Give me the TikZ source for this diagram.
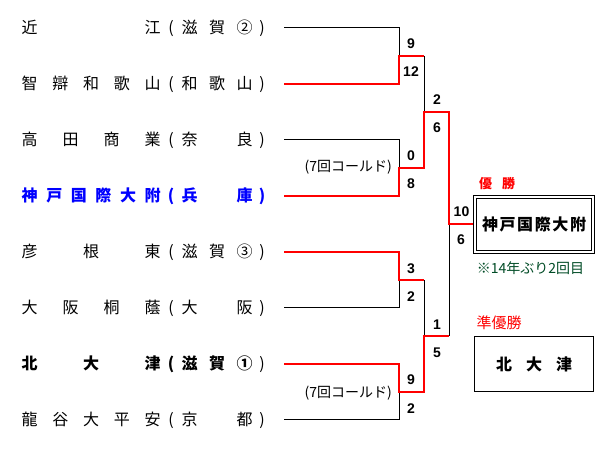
\documentclass[tikz,border=0pt]{standalone}
\usepackage{fontspec}
\setmainfont{Noto Sans CJK JP}
\newfontfamily\numfont{Liberation Sans}
\definecolor{winred}{RGB}{255,0,0}
\definecolor{teamblue}{RGB}{0,0,255}
\definecolor{notegreen}{RGB}{0,76,38}
\newcommand\trow[3]{\makebox[139pt][l]{#1}\makebox[21pt]{(}\makebox[71pt][l]{#2}\makebox[19pt]{#3)}}
\begin{document}
\begin{tikzpicture}[x=1pt,y=-1pt,
  team/.style={anchor=west, inner sep=0pt, font=\fontsize{16}{16}\selectfont},
  score/.style={inner sep=0pt, font=\numfont\bfseries\fontsize{14}{14}\selectfont},
  cold/.style={anchor=east, inner sep=0pt, font=\fontsize{14}{14}\selectfont},
  winline/.style={draw=winred, line width=2pt},
  loseline/.style={draw=black, line width=1pt},
  champbox/.style={draw, double, line width=1pt, double distance=2pt, minimum width=118pt, minimum height=55pt, inner sep=0pt},
  runbox/.style={draw, line width=1pt, minimum width=119pt, minimum height=55pt, inner sep=0pt}]
\useasboundingbox[fill=white] (0,0) rectangle (614,449);

% teams
\node[team] (t1) at (21.5,28) {\trow{近\hfill 江}{滋\hfill 賀\hfill ②}{}};
\node[team] (t2) at (21.5,84) {\trow{智\hfill 辯\hfill 和\hfill 歌\hfill 山}{和\hfill 歌\hfill 山}{}};
\node[team] (t3) at (21.5,140) {\trow{高\hfill 田\hfill 商\hfill 業}{奈\hfill 良}{}};
\node[team, text=teamblue, font=\fontsize{16}{16}\selectfont\bfseries] (t4) at (21.5,196) {\trow{神\hfill 戸\hfill 国\hfill 際\hfill 大\hfill 附}{兵\hfill 庫}{}};
\node[team] (t5) at (21.5,252) {\trow{彦\hfill 根\hfill 東}{滋\hfill 賀\hfill ③}{}};
\node[team] (t6) at (21.5,308) {\trow{大\hfill 阪\hfill 桐\hfill 蔭}{大\hfill 阪}{}};
\node[team, font=\fontsize{16}{16}\selectfont\bfseries] (t7) at (21.5,364) {\trow{北\hfill 大\hfill 津}{滋\hfill 賀\hfill ①}{\mdseries}};
\node[team] (t8) at (21.5,420) {\trow{龍\hfill 谷\hfill 大\hfill 平\hfill 安}{京\hfill 都}{}};

% bracket coordinates
\coordinate (s1) at (284,28);
\coordinate (s2) at (284,84);
\coordinate (s3) at (284,140);
\coordinate (s4) at (284,196);
\coordinate (s5) at (284,252);
\coordinate (s6) at (284,308);
\coordinate (s7) at (284,364);
\coordinate (s8) at (284,420);
\coordinate (j1) at (399,56);
\coordinate (j2) at (399,168);
\coordinate (j3) at (399,280);
\coordinate (j4) at (399,392);
\coordinate (k1) at (424,56);
\coordinate (k2) at (424,168);
\coordinate (k3) at (424,280);
\coordinate (k4) at (424,392);
\coordinate (m1) at (424,112);
\coordinate (m2) at (424,336);
\coordinate (r1) at (449,112);
\coordinate (r2) at (449,336);
\coordinate (f) at (449,224);

% result boxes
\node[champbox] (champ) at (534,224.5) {\makebox[104pt][l]{\fontsize{16}{16}\selectfont\bfseries 神\hfill 戸\hfill 国\hfill 際\hfill 大\hfill 附}};
\node[runbox] (runner) at (534,364) {\makebox[76pt][l]{\fontsize{16}{16}\selectfont\bfseries 北\hfill 大\hfill 津}};
\node[inner sep=0pt, text=winred, font=\fontsize{13}{13}\selectfont\bfseries] (champlabel) at (497,184) {\makebox[36pt][l]{優\hfill 勝}};
\node[inner sep=0pt, text=notegreen, font=\fontsize{14}{14}\selectfont] (champnote) at (530.5,268.3) {※14年ぶり2回目};
\node[inner sep=0pt, text=winred, font=\fontsize{15}{15}\selectfont] (runlabel) at (499,323) {準優勝};

% losing lines
\draw[loseline] (s1) -| (j1);
\draw[loseline] (s3) -| (j2);
\draw[loseline] (s6) -| (j3);
\draw[loseline] (s8) -| (j4);
\draw[loseline] (k1) -- (m1);
\draw[loseline] (k3) -- (m2);
\draw[loseline] (r2) -- (f);
% winning lines
\draw[winline] (s2) -| (j1) -- (k1);
\draw[winline] (s4) -| (j2) -- (k2) -- (m1) -- (r1) -- (f) -- (f -| champ.west);
\draw[winline] (s5) -| (j3) -- (k3);
\draw[winline] (s7) -| (j4) -- (k4) -- (m2) -- (r2);
\node[champbox, fill=none] at (champ) {};

% scores
\node[score] (a1) at (411,43.7) {9};
\node[score] (a2) at (411,71.7) {12};
\node[score] (a3) at (411,155.7) {0};
\node[score] (a4) at (411,183.7) {8};
\node[score] (a5) at (411,268.3) {3};
\node[score] (a6) at (411,296.7) {2};
\node[score] (a7) at (411,380) {9};
\node[score] (a8) at (411,408.3) {2};
\node[score] (b1) at (437,99.7) {2};
\node[score] (b2) at (437,127.7) {6};
\node[score] (b3) at (437,324.3) {1};
\node[score] (b4) at (437,352.3) {5};
\node[score] (c1) at (461.5,211.7) {10};
\node[score] (c2) at (461,240) {6};

% called games
\node[cold] (cold1) at (392,167.5) {(7回コールド)};
\node[cold] (cold2) at (392,393) {(7回コールド)};
\end{tikzpicture}
\end{document}
